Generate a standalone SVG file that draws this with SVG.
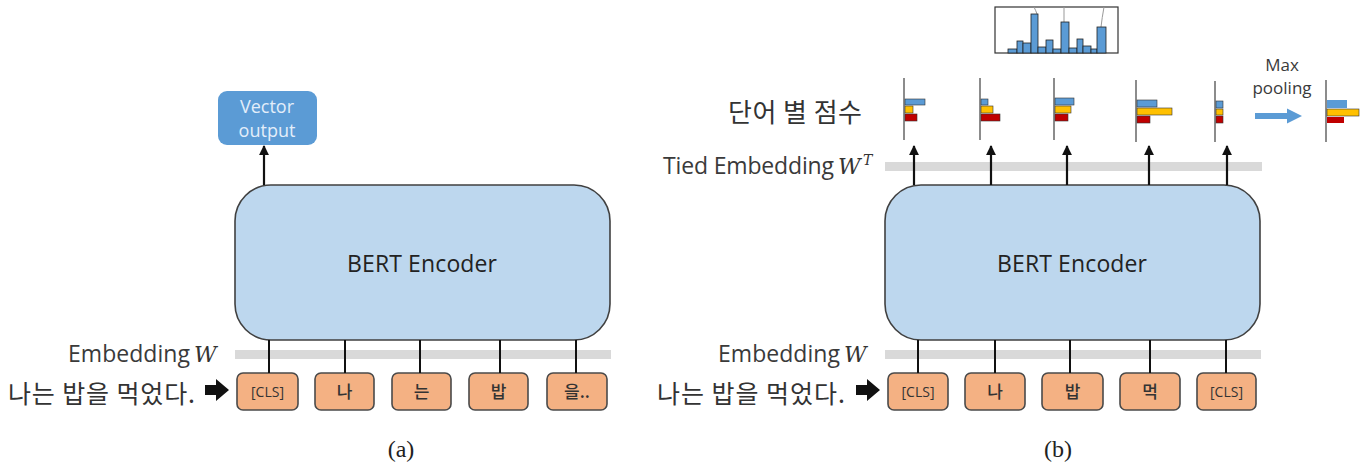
<svg xmlns="http://www.w3.org/2000/svg" width="1370" height="466" viewBox="0 0 1370 466">
  <defs>
    <marker id="ah" viewBox="0 0 10 10" refX="9" refY="5" markerWidth="4.5" markerHeight="4.5" orient="auto">
      <path d="M0,0 L10,5 L0,10 z" fill="#111"/>
    </marker>
    <marker id="ahBlue" viewBox="0 0 10 10" refX="6" refY="5" markerWidth="2.6" markerHeight="2.6" orient="auto">
      <path d="M0,0 L10,5 L0,10 z" fill="#5b9bd5"/>
    </marker>
    <style>
      .enc { fill: #bdd7ee; stroke: #404040; stroke-width: 1.6; }
      .tok { fill: #f4b183; stroke: #4a4a4a; stroke-width: 1.6; }
      .band { fill: #d9d9d9; }
      .wire { stroke: #111; stroke-width: 2; fill: none; }
      .up { stroke: #111; stroke-width: 2.2; fill: none; marker-end: url(#ah); }
      .lbl { font-family: "Open Sans", "Noto Sans", sans-serif; fill: #3a3a3a; }
      .kr { font-family: "Noto Sans CJK KR", sans-serif; fill: #333; }
      .tk { font-family: "Noto Sans CJK KR", "Open Sans", sans-serif; fill: #333; font-size: 17px; font-weight: 500; text-anchor: middle; }
      .cls { font-family: "Open Sans", "Noto Sans", sans-serif; font-size: 14px; font-weight: 400; }
      .math { font-family: "DejaVu Serif", "Liberation Serif", serif; font-style: italic; fill: #333; }
      .cap { font-family: "Liberation Serif", "Noto Serif CJK KR", serif; fill: #222; font-size: 24px; text-anchor: middle; }
      .axis { stroke: #666; stroke-width: 1.5; }
      .b { fill: #5b9bd5; stroke: #333; stroke-width: 0.6; }
      .y { fill: #ffc000; stroke: #333; stroke-width: 0.6; }
      .r { fill: #c00000; stroke: #333; stroke-width: 0.6; }
      .hist { fill: #5b9bd5; stroke: #222; stroke-width: 0.8; }
      .lead { stroke: #999; stroke-width: 1; fill: none; }
    </style>
  </defs>

  <!-- ===== (a) sentence embedding ===== -->
  <g id="a-vector-output">
    <rect x="218" y="91" width="99" height="54" rx="9" fill="#5b9bd5"/>
    <text x="267" y="113" class="lbl" font-size="18" style="fill:#e3eefa" text-anchor="middle">Vector</text>
    <text x="267" y="137" class="lbl" font-size="18" style="fill:#e3eefa" text-anchor="middle">output</text>
  </g>
  <g id="a-encoder">
    <rect class="enc" x="235" y="185" width="375" height="155" rx="36"/>
    <text x="347" y="272" class="lbl" font-size="23" style="fill:#222" textLength="150">BERT Encoder</text>
  </g>
  <g id="a-embedding">
    <rect class="band" x="235" y="350" width="376" height="9"/>
    <text x="68" y="362" class="lbl" font-size="23" textLength="122">Embedding</text>
    <text x="194" y="362" class="math" font-size="22">W</text>
  </g>
  <g id="a-input">
    <text x="8" y="403" class="kr" font-size="25" textLength="187">나는 밥을 먹었다.</text>
    <polygon points="205,385 216,385 216,379 229,390 216,401 216,395 205,395" fill="#111"/>
  </g>
  <g id="a-tokens">
    <rect class="tok" x="237" y="373" width="61" height="37" rx="6"/>
    <text x="267.5" y="397" class="tk cls">[CLS]</text>
    <rect class="tok" x="315" y="373" width="59" height="37" rx="6"/>
    <text x="344.5" y="398" class="tk">나</text>
    <rect class="tok" x="392" y="373" width="59" height="37" rx="6"/>
    <text x="421.5" y="398" class="tk">는</text>
    <rect class="tok" x="469" y="373" width="59" height="37" rx="6"/>
    <text x="498.5" y="398" class="tk">밥</text>
    <rect class="tok" x="547" y="373" width="60" height="37" rx="6"/>
    <text x="577" y="398" class="tk">을..</text>
  </g>
  <g id="a-connectors">
    <line class="up" x1="264" y1="185" x2="264" y2="146"/>
    <line class="wire" x1="269" y1="340" x2="269" y2="373"/>
    <line class="wire" x1="345" y1="340" x2="345" y2="373"/>
    <line class="wire" x1="420" y1="340" x2="420" y2="373"/>
    <line class="wire" x1="500" y1="340" x2="500" y2="373"/>
    <line class="wire" x1="576" y1="340" x2="576" y2="373"/>
  </g>
  <text x="401" y="457" class="cap">(a)</text>

  <!-- ===== (b) token scores with tied embedding ===== -->
  <g id="b-histogram">
    <rect x="995" y="7" width="123" height="46" fill="#fff" stroke="#333" stroke-width="1.2"/>
    <path class="lead" d="M1034,7 Q1036,11 1037,14"/>
    <path class="lead" d="M1064,7 L1064,22"/>
    <path class="lead" d="M1104,7 Q1102,18 1101,27"/>
    <rect class="hist" x="1008" y="49" width="9" height="4"/>
    <rect class="hist" x="1017" y="41" width="6" height="12"/>
    <rect class="hist" x="1023" y="43" width="8" height="10"/>
    <rect class="hist" x="1031" y="14" width="7" height="39"/>
    <rect class="hist" x="1038" y="47" width="8" height="6"/>
    <rect class="hist" x="1046" y="40" width="7" height="13"/>
    <rect class="hist" x="1053" y="49" width="8" height="4"/>
    <rect class="hist" x="1061" y="22" width="8" height="31"/>
    <rect class="hist" x="1069" y="48" width="8" height="5"/>
    <rect class="hist" x="1077" y="39" width="6" height="14"/>
    <rect class="hist" x="1083" y="46" width="8" height="7"/>
    <rect class="hist" x="1091" y="49" width="6" height="4"/>
    <rect class="hist" x="1097" y="27" width="9" height="26"/>
  </g>
  <g id="b-score-label">
    <text x="728" y="122" class="kr" font-size="26" textLength="134">단어 별 점수</text>
  </g>
  <g id="b-scores">
    <g id="score-1">
      <line class="axis" x1="904" y1="78" x2="904" y2="140"/>
      <rect class="b" x="905" y="99" width="20" height="6"/>
      <rect class="y" x="905" y="106" width="8" height="7"/>
      <rect class="r" x="905" y="114" width="12" height="7"/>
    </g>
    <g id="score-2">
      <line class="axis" x1="980" y1="78" x2="980" y2="140"/>
      <rect class="b" x="981" y="99" width="7" height="6"/>
      <rect class="y" x="981" y="106" width="12" height="7"/>
      <rect class="r" x="981" y="114" width="19" height="7"/>
    </g>
    <g id="score-3">
      <line class="axis" x1="1054" y1="78" x2="1054" y2="140"/>
      <rect class="b" x="1055" y="98" width="19" height="7"/>
      <rect class="y" x="1055" y="106" width="16" height="7"/>
      <rect class="r" x="1055" y="114" width="13" height="7"/>
    </g>
    <g id="score-4">
      <line class="axis" x1="1136" y1="80" x2="1136" y2="142"/>
      <rect class="b" x="1137" y="100" width="20" height="7"/>
      <rect class="y" x="1137" y="108" width="35" height="7"/>
      <rect class="r" x="1137" y="116" width="13" height="7"/>
    </g>
    <g id="score-5">
      <line class="axis" x1="1215" y1="81" x2="1215" y2="142"/>
      <rect class="b" x="1216" y="101" width="7" height="7"/>
      <rect class="y" x="1216" y="109" width="7" height="6"/>
      <rect class="r" x="1216" y="116" width="7" height="7"/>
    </g>
  </g>
  <g id="b-max-pooling">
    <text x="1282" y="71" class="lbl" font-size="17" text-anchor="middle">Max</text>
    <text x="1282" y="94" class="lbl" font-size="17" text-anchor="middle">pooling</text>
    <line x1="1255" y1="116" x2="1296" y2="116" stroke="#5b9bd5" stroke-width="6" marker-end="url(#ahBlue)"/>
  </g>
  <g id="b-pooled">
    <line class="axis" x1="1326" y1="80" x2="1326" y2="142"/>
    <rect class="b" x="1327" y="100" width="20" height="8" style="stroke:none"/>
    <rect class="y" x="1327" y="109" width="32" height="7"/>
    <rect class="r" x="1327" y="117" width="17" height="6" style="stroke:none"/>
  </g>
  <g id="b-tied-embedding">
    <rect class="band" x="885" y="162" width="377" height="9"/>
    <text x="663" y="174" class="lbl" font-size="23" textLength="171">Tied Embedding</text>
    <text x="838" y="174" class="math" font-size="22">W</text>
    <text x="863" y="165" class="math" font-size="14">T</text>
  </g>
  <g id="b-encoder">
    <rect class="enc" x="885" y="185" width="375" height="155" rx="36"/>
    <text x="997" y="272" class="lbl" font-size="23" style="fill:#222" textLength="150">BERT Encoder</text>
  </g>
  <g id="b-embedding">
    <rect class="band" x="885" y="350" width="376" height="9"/>
    <text x="718" y="362" class="lbl" font-size="23" textLength="122">Embedding</text>
    <text x="844" y="362" class="math" font-size="22">W</text>
  </g>
  <g id="b-input">
    <text x="657" y="403" class="kr" font-size="25" textLength="188">나는 밥을 먹었다.</text>
    <polygon points="856,385 867,385 867,379 880,390 867,401 867,395 856,395" fill="#111"/>
  </g>
  <g id="b-tokens">
    <rect class="tok" x="888" y="373" width="60" height="37" rx="6"/>
    <text x="918" y="397" class="tk cls">[CLS]</text>
    <rect class="tok" x="965" y="373" width="60" height="37" rx="6"/>
    <text x="995" y="398" class="tk">나</text>
    <rect class="tok" x="1042" y="373" width="61" height="37" rx="6"/>
    <text x="1072.5" y="398" class="tk">밥</text>
    <rect class="tok" x="1120" y="373" width="60" height="37" rx="6"/>
    <text x="1150" y="398" class="tk">먹</text>
    <rect class="tok" x="1197" y="373" width="59" height="37" rx="6"/>
    <text x="1226.5" y="397" class="tk cls">[CLS]</text>
  </g>
  <g id="b-connectors">
    <line class="up" x1="914" y1="185" x2="914" y2="146"/>
    <line class="up" x1="991" y1="185" x2="991" y2="146"/>
    <line class="up" x1="1067" y1="185" x2="1067" y2="146"/>
    <line class="up" x1="1149" y1="185" x2="1149" y2="146"/>
    <line class="up" x1="1227" y1="185" x2="1227" y2="146"/>
    <line class="wire" x1="918" y1="340" x2="918" y2="373"/>
    <line class="wire" x1="995" y1="340" x2="995" y2="373"/>
    <line class="wire" x1="1070" y1="340" x2="1070" y2="373"/>
    <line class="wire" x1="1150" y1="340" x2="1150" y2="373"/>
    <line class="wire" x1="1226" y1="340" x2="1226" y2="373"/>
  </g>
  <text x="1058" y="457" class="cap">(b)</text>
</svg>
